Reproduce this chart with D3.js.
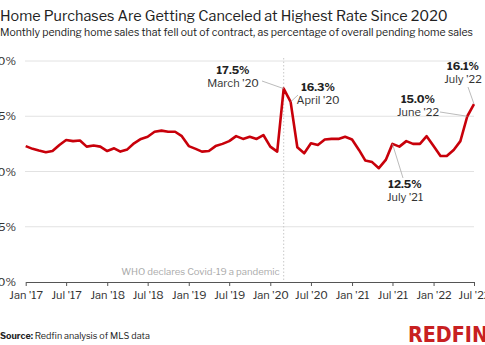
<!DOCTYPE html>
<html>
<head>
<meta charset="utf-8">
<script src="https://cdn.jsdelivr.net/npm/d3@7"></script>
<style>
  body { margin: 0; background: #fff; }
  svg { display: block; font-family: "Libre Franklin", Lato, "Open Sans", sans-serif; }
</style>
</head>
<body>
<svg id="chart" width="485" height="345"></svg>
<script>
// monthly cancellation share, Jan 2017 .. Jul 2022
var months = d3.timeMonths(new Date(2017, 0, 1), new Date(2022, 7, 1));
var cancelRate = [
  12.3, 12.05, 11.9, 11.75, 11.85, 12.4, 12.85, 12.75, 12.8, 12.25, 12.35, 12.25,
  11.85, 12.1, 11.8, 12.0, 12.55, 12.95, 13.15, 13.6, 13.7, 13.6, 13.6, 13.2,
  12.3, 12.05, 11.8, 11.85, 12.3, 12.5, 12.75, 13.2, 12.95, 13.15, 12.95, 13.3,
  12.25, 11.8, 17.5, 16.3, 12.2, 11.65, 12.55, 12.4, 12.9, 12.95, 12.95, 13.15,
  12.9, 11.95, 11.0, 10.85, 10.3, 11.05, 12.5, 12.25, 12.75, 12.5, 12.5, 13.2,
  12.3, 11.4, 11.4, 11.95, 12.75, 15.0, 16.1
];
var yTicks = [0, 5, 10, 15, 20];
var xTicks = d3.timeMonths(new Date(2017, 0, 1), new Date(2022, 7, 1), 6);
var callouts = [
  {i: 38, value: "17.5%", label: "March '20", tx: 233, ty: 74, lx: 262, ly: 81},
  {i: 39, value: "16.3%", label: "April '20", tx: 318, ty: 91, lx: 298, ly: 95},
  {i: 54, value: "12.5%", label: "July '21", tx: 405, ty: 188, lx: 403, ly: 178},
  {i: 65, value: "15.0%", label: "June '22", tx: 418, ty: 103, lx: 440, ly: 112},
  {i: 66, value: "16.1%", label: "July '22", tx: 463, ty: 70, lx: 468, ly: 87}
];
var fmtTick = function(d) {
  return d3.timeFormat("%b")(d) + " '" + d3.timeFormat("%y")(d);
};

var svg = d3.select("#chart");
var x = d3.scaleTime().domain([months[0], months[months.length - 1]]).range([25.7, 474]);
var y = d3.scaleLinear().domain([0, 20]).range([282, 61]);

// shrink a text's font until it spans the wanted width
function fitWidth(sel, w) {
  var size = parseFloat(sel.style("font-size"));
  var len = sel.node().getComputedTextLength();
  sel.style("font-size", (size * w / len).toFixed(2) + "px");
}

// title block
var title = svg.append("text").attr("x", 0).attr("y", 21)
  .style("font-size", "19.5px").style("fill", "#222")
  .text("Home Purchases Are Getting Canceled at Highest Rate Since 2020");
fitWidth(title, 448);
var sub = svg.append("text").attr("x", 0).attr("y", 36)
  .style("font-size", "11.6px").style("fill", "#222")
  .text("Monthly pending home sales that fell out of contract, as percentage of overall pending home sales");
fitWidth(sub, 473);

// gridlines + y labels
var grid = svg.append("g");
grid.selectAll("line").data(yTicks.filter(function(d) { return d > 0; })).enter().append("line")
  .attr("x1", 25).attr("x2", 474)
  .attr("y1", function(d) { return y(d); }).attr("y2", function(d) { return y(d); })
  .style("stroke", "#e2e2e2").style("stroke-width", 1);
grid.selectAll("text").data(yTicks).enter().append("text")
  .attr("x", 16).attr("y", function(d) { return y(d) + 4; })
  .attr("text-anchor", "end")
  .style("font-size", "11.5px").style("fill", "#333")
  .text(function(d) { return d + "%"; });

// covid marker
var covidX = x(months[38]);
svg.append("line")
  .attr("x1", covidX).attr("x2", covidX).attr("y1", 58).attr("y2", 282)
  .style("stroke", "#c8c8c8").style("stroke-dasharray", "1.5,2");
svg.append("text").attr("x", covidX - 4).attr("y", 275)
  .attr("text-anchor", "end")
  .style("font-size", "9.5px").style("fill", "#aaa")
  .text("WHO declares Covid-19 a pandemic");

// x axis
var xAxis = svg.append("g").attr("transform", "translate(0,282)")
  .call(d3.axisBottom(x).tickValues(xTicks).tickFormat(fmtTick).tickSize(4).tickSizeOuter(0));
xAxis.select(".domain").style("stroke", "#555");
xAxis.selectAll(".tick line").style("stroke", "#555");
xAxis.selectAll(".tick text")
  .attr("dy", "0.95em")
  .style("font-family", "Libre Franklin, Lato, 'Open Sans', sans-serif")
  .style("font-size", "11px").style("fill", "#333");

// the series
var line = d3.line()
  .x(function(d, i) { return x(months[i]); })
  .y(function(d) { return y(d); });
svg.append("path").datum(cancelRate)
  .attr("d", line)
  .style("fill", "none").style("stroke", "#c8000a")
  .style("stroke-width", 2.6).style("stroke-linejoin", "round");

// callouts
var notes = svg.append("g").selectAll("g").data(callouts).enter().append("g");
notes.append("line")
  .attr("x1", function(d) { return d.lx; }).attr("y1", function(d) { return d.ly; })
  .attr("x2", function(d) { return x(months[d.i]); })
  .attr("y2", function(d) { return y(cancelRate[d.i]); })
  .style("stroke", "#aaa").style("stroke-width", 0.8);
notes.append("text")
  .attr("x", function(d) { return d.tx; }).attr("y", function(d) { return d.ty; })
  .attr("text-anchor", "middle")
  .style("font-size", "11px").style("font-weight", "bold").style("fill", "#222")
  .text(function(d) { return d.value; });
notes.append("text")
  .attr("x", function(d) { return d.tx; }).attr("y", function(d) { return d.ty + 13; })
  .attr("text-anchor", "middle")
  .style("font-size", "11px").style("fill", "#333")
  .text(function(d) { return d.label; });

// footer
var src = svg.append("text").attr("x", 0).attr("y", 339)
  .style("font-size", "9px").style("fill", "#222");
src.append("tspan").style("font-weight", "bold").text("Source: ");
src.append("tspan").text("Redfin analysis of MLS data");
var logo = svg.append("text").attr("x", 408).attr("y", 342)
  .style("font-family", "'Liberation Sans Narrow', 'DejaVu Sans Condensed', sans-serif")
  .style("font-size", "24px").style("font-weight", "bold").style("fill", "#c82021")
  .text("REDFIN");
fitWidth(logo, 80);
</script>
</body>
</html>
